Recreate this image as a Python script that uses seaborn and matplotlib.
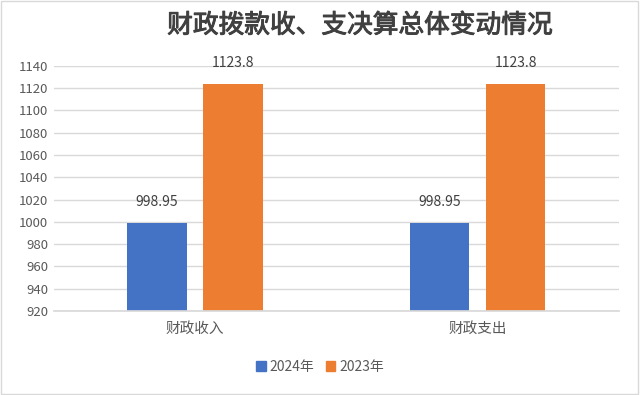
import matplotlib
matplotlib.use("Agg")
import matplotlib.pyplot as plt
import matplotlib.patheffects as pe
import seaborn as sns
import pandas as pd
from matplotlib.patches import Rectangle

categories = ["财政收入", "财政支出"]
years = ["2024年", "2023年"]
values_2024 = [998.95, 998.95]
values_2023 = [1123.8, 1123.8]
label_2024 = ["998.95", "998.95"]
label_2023 = ["1123.8", "1123.8"]
yticks = list(range(920, 1141, 20))

df = pd.DataFrame({
    "category": categories * 2,
    "year": [years[0]] * 2 + [years[1]] * 2,
    "value": values_2024 + values_2023,
})

sns.set_theme(style="white")
plt.rcParams["font.family"] = ["Noto Sans CJK SC", "DejaVu Sans"]

fig = plt.figure(figsize=(6.4, 3.95), dpi=100)
ax = fig.add_axes([0.084, 0.213, 0.883, 0.62])
palette = {"2024年": "#4472C4", "2023年": "#ED7D31"}
sns.barplot(data=df, x="category", y="value", hue="year", hue_order=years,
            palette=palette, width=0.54, gap=0.22, ax=ax, legend=False,
            saturation=1, edgecolor="none")

ax.set_ylim(920, 1140)
ax.set_xlim(-0.5, 1.5)
ax.set_yticks(yticks)
ax.set_yticklabels([str(t) for t in yticks], fontsize=9.5, color="#595959")
ax.tick_params(axis="x", labelsize=10.5, colors="#595959", length=0, pad=8)
ax.tick_params(axis="y", length=0, pad=4)
ax.set_xlabel("")
ax.set_ylabel("")
ax.yaxis.grid(True, color="#d9d9d9", linewidth=1)
ax.set_axisbelow(True)
for s in ["left", "right", "top"]:
    ax.spines[s].set_visible(False)
ax.spines["bottom"].set_color("#d9d9d9")

for cont, labs in zip(ax.containers, [label_2024, label_2023]):
    ax.bar_label(cont, labels=labs, padding=10, fontsize=10, color="#404040")

fig.text(0.563, 0.935, "财政拨款收、支决算总体变动情况", ha="center", va="center",
         fontsize=18.5, color="#404040", fontweight="normal",
         path_effects=[pe.withStroke(linewidth=0.7, foreground="#404040")])

handles = [Rectangle((0, 0), 1, 1, color=palette[y]) for y in years]
fig.legend(handles, years, loc="center", bbox_to_anchor=(0.5, 0.072), ncol=2,
           frameon=False, fontsize=10, handlelength=0.7, handleheight=0.7,
           handletextpad=0.3, columnspacing=0.8, labelcolor="#595959")

fig.patches.append(Rectangle((0.002, 0.003), 0.995, 0.994, transform=fig.transFigure,
                             fill=False, edgecolor="#d9d9d9", linewidth=1))

fig.savefig("out.png", dpi=100)
